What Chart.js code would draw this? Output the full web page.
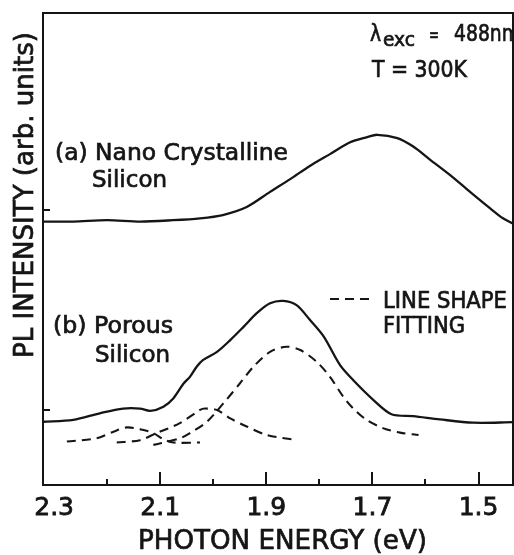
<!DOCTYPE html>
<html>
<head>
<meta charset="utf-8">
<script src="https://cdn.jsdelivr.net/npm/chart.js@4"></script>
<style>
  html, body { margin: 0; padding: 0; background: #fff; }
  #wrap { width: 514px; height: 555px; }
</style>
</head>
<body>
<div id="wrap"><canvas id="pl" width="514" height="555"></canvas></div>
<script>
// PL spectra, photon energy (eV) vs intensity (arb. units, 0-100)

// (a) nano crystalline silicon
const nanoEnergy = [2.321, 2.264, 2.200, 2.138, 2.076, 2.025, 1.982, 1.937, 1.893, 1.855, 1.818, 1.780,
  1.742, 1.710, 1.691, 1.653, 1.623, 1.591, 1.554, 1.516, 1.478, 1.454, 1.435];
const nanoIntensity = [55.8, 55.8, 56.1, 55.8, 56.1, 56.5, 57.2, 58.9, 62.1, 64.8, 67.6, 70.1,
  72.6, 73.7, 74.2, 73.5, 71.7, 68.9, 65.7, 62.1, 58.6, 56.5, 55.4];

// (b) porous silicon
const porousEnergy = [2.321, 2.264, 2.214, 2.170, 2.138, 2.119, 2.094, 2.075, 2.056, 2.044, 2.031, 2.019,
  1.993, 1.968, 1.943, 1.918, 1.893, 1.868, 1.843, 1.818, 1.792, 1.761, 1.736, 1.698, 1.664, 1.623,
  1.573, 1.510, 1.435];
const porousIntensity = [13.4, 13.8, 15.2, 16.2, 16.2, 15.7, 16.6, 18.4, 21.5, 22.9, 25.1, 26.5,
  28.2, 30.7, 33.5, 36.4, 38.5, 39.0, 38.1, 35.0, 31.5, 25.4, 22.2, 18.0, 15.0, 14.6,
  13.9, 13.2, 13.3];

// line shape fitting components
const fit1Energy = [2.276, 2.220, 2.188, 2.163, 2.138, 2.113, 2.094, 2.075, 2.025];
const fit1Intensity = [9.2, 9.9, 11.3, 12.2, 11.8, 11.0, 9.7, 9.0, 9.0];

const fit2Energy = [2.182, 2.138, 2.107, 2.063, 2.025, 2.016, 1.993, 1.968, 1.937, 1.899, 1.843];
const fit2Intensity = [9.0, 9.5, 11.0, 13.1, 15.9, 16.2, 15.9, 14.1, 12.4, 10.6, 9.5];

const fit3Energy = [2.113, 2.063, 2.044, 2.012, 1.981, 1.950, 1.924, 1.893, 1.862, 1.836, 1.805, 1.780,
  1.755, 1.736, 1.711, 1.679, 1.648, 1.613];
const fit3Intensity = [8.5, 9.9, 11.0, 13.4, 17.3, 21.5, 25.1, 28.2, 29.3, 28.6, 26.1, 22.9,
  18.7, 16.2, 13.8, 12.0, 11.1, 10.6];

// legend sample for the dashed lines
const legendEnergy = [1.780, 1.705];
const legendIntensity = [39.4, 39.4];

const xTickLabels = ['2.3', '2.1', '1.9', '1.7', '1.5'];
const yTickValues = [15.9, 58.3];

const INK = '#151515';
const FONT = 'DejaVu Sans';

function pts(xs, ys) {
  return xs.map((x, i) => ({ x, y: ys[i] }));
}

function solid(data) {
  return { data, borderColor: INK, borderWidth: 2.3, pointRadius: 0, tension: 0.3, fill: false };
}

function dashed(data) {
  return { ...solid(data), borderWidth: 2.1, borderDash: [9, 6] };
}

// text squeezed to the width of the narrow lettering in the original, then lightly stroked
function note(ctx, text, x, y, size, width) {
  ctx.save();
  ctx.font = `${size}px "${FONT}"`;
  const w = ctx.measureText(text).width;
  ctx.translate(x, y);
  if (width) ctx.scale(width / w, 1);
  ctx.fillText(text, 0, 0);
  ctx.strokeText(text, 0, 0);
  ctx.restore();
}

// box, inward tick marks and the text notes
const framePlugin = {
  id: 'frame',
  afterDatasetsDraw(chart) {
    const { ctx, chartArea: a, scales: { x, y } } = chart;
    ctx.save();
    ctx.strokeStyle = INK;
    ctx.lineWidth = 2;
    ctx.strokeRect(a.left, a.top, a.right - a.left, a.bottom - a.top);

    ctx.beginPath();
    x.ticks.forEach(t => {
      if (t.value > 2.25) return;
      const px = Math.round(x.getPixelForValue(t.value));
      const len = t.label ? 13 : 6;
      ctx.moveTo(px, a.bottom);
      ctx.lineTo(px, a.bottom - len);
    });
    y.ticks.forEach(t => {
      const py = Math.round(y.getPixelForValue(t.value));
      ctx.moveTo(a.left, py);
      ctx.lineTo(a.left + 7, py);
    });
    ctx.stroke();

    ctx.fillStyle = INK;
    ctx.lineWidth = 0.7;
    ctx.textBaseline = 'alphabetic';
    ctx.textAlign = 'left';
    note(ctx, '(a) Nano Crystalline', 55, 160, 23, 233);
    note(ctx, 'Silicon', 92, 187, 23, 75);
    note(ctx, '(b) Porous', 53, 333, 23, 120);
    note(ctx, 'Silicon', 95, 362, 23, 75);
    note(ctx, 'LINE SHAPE', 383, 308, 23, 124);
    note(ctx, 'FITTING', 383, 333, 23, 82);
    note(ctx, 'T = 300K', 372, 77, 23, 95);

    // lambda_exc note, clipped by the frame like the original
    ctx.save();
    ctx.beginPath();
    ctx.rect(a.left, a.top, a.right - a.left - 1, a.bottom - a.top);
    ctx.clip();
    note(ctx, '\u03bb', 370, 41, 23, 11);
    note(ctx, 'exc', 383, 46, 19, 32);
    note(ctx, '=', 429, 41, 20, 10);
    note(ctx, '488nm', 454, 41, 23, 66);
    ctx.restore();

    // axis titles
    note(ctx, 'PHOTON ENERGY (eV)', 138, 549, 26, 289);
    ctx.translate(33, 358);
    ctx.rotate(-Math.PI / 2);
    note(ctx, 'PL INTENSITY (arb. units)', 0, 0, 26, 326);
    ctx.restore();
  }
};

new Chart(document.getElementById('pl'), {
  type: 'line',
  data: {
    datasets: [
      solid(pts(nanoEnergy, nanoIntensity)),
      solid(pts(porousEnergy, porousIntensity)),
      dashed(pts(fit1Energy, fit1Intensity)),
      dashed(pts(fit2Energy, fit2Intensity)),
      dashed(pts(fit3Energy, fit3Intensity)),
      { ...dashed(pts(legendEnergy, legendIntensity)), tension: 0 }
    ]
  },
  options: {
    responsive: false,
    animation: false,
    events: [],
    layout: { padding: { top: 13, right: 1, left: 0, bottom: 0 } },
    plugins: { legend: { display: false }, tooltip: { enabled: false } },
    scales: {
      x: {
        type: 'linear',
        min: 1.435,
        max: 2.321,
        reverse: true,
        grid: { display: false, drawTicks: false },
        border: { display: false },
        ticks: {
          stepSize: 0.1,
          includeBounds: false,
          autoSkip: false,
          maxRotation: 0,
          padding: 8,
          color: INK,
          textStrokeColor: INK,
          textStrokeWidth: 0.8,
          font: { family: FONT, size: 25 },
          callback: v => {
            const s = (Math.round(v * 10) / 10).toFixed(1);
            return xTickLabels.includes(s) ? s : '';
          }
        },
        afterFit: s => { s.height = 70; }
      },
      y: {
        type: 'linear',
        min: 0,
        max: 100,
        grid: { display: false, drawTicks: false },
        border: { display: false },
        ticks: { display: false },
        afterBuildTicks: s => { s.ticks = yTickValues.map(v => ({ value: v })); },
        afterFit: s => { s.width = 43; }
      }
    }
  },
  plugins: [framePlugin]
});
</script>
</body>
</html>
